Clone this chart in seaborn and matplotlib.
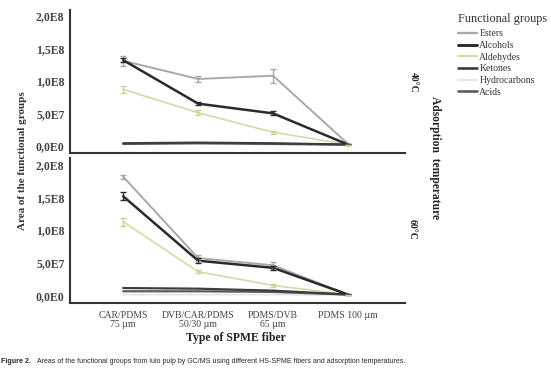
import matplotlib
matplotlib.use("Agg")
import matplotlib.pyplot as plt
from matplotlib.lines import Line2D
import seaborn as sns
import pandas as pd

# fibers on the x axis
fibers = ["CAR/PDMS\n75 µm", "DVB/CAR/PDMS\n50/30 µm", "PDMS/DVB\n65 µm", "PDMS 100 µm"]
groups = ["Esters", "Alcohols", "Aldehydes", "Ketones", "Hydrocarbons", "Acids"]

# 40 C panel, means (x1E8)
esters_40 = [1.31, 1.03, 1.08, 0.03]
alcohols_40 = [1.32, 0.65, 0.50, 0.02]
aldehydes_40 = [0.87, 0.51, 0.21, 0.02]
ketones_40 = [0.04, 0.05, 0.04, 0.02]
hydrocarbons_40 = [0.03, 0.03, 0.02, 0.01]
acids_40 = [0.03, 0.04, 0.03, 0.02]
# error bars 40 C
esters_40_err = [0.08, 0.04, 0.11, 0.005]
alcohols_40_err = [0.03, 0.02, 0.03, 0.005]
aldehydes_40_err = [0.05, 0.04, 0.02, 0.0]

# 60 C panel, means (x1E8)
esters_60 = [1.82, 0.57, 0.46, 0.01]
alcohols_60 = [1.52, 0.53, 0.42, 0.01]
aldehydes_60 = [1.13, 0.36, 0.15, 0.01]
ketones_60 = [0.11, 0.10, 0.07, 0.01]
hydrocarbons_60 = [0.01, 0.01, 0.01, 0.0]
acids_60 = [0.06, 0.06, 0.05, 0.01]
# error bars 60 C
esters_60_err = [0.03, 0.05, 0.05, 0.005]
alcohols_60_err = [0.06, 0.04, 0.03, 0.005]
aldehydes_60_err = [0.06, 0.02, 0.02, 0.0]

ytick_vals = [0, 5e7, 1e8, 1.5e8, 2e8]
ytick_labels = ["0,0E0", "5,0E7", "1,0E8", "1,5E8", "2,0E8"]

colors = {"Esters": "#a8a8a8", "Alcohols": "#2a2a2a", "Aldehydes": "#d9d7a9",
          "Ketones": "#3d3d3d", "Hydrocarbons": "#e4e4e4", "Acids": "#5c5c5c"}
widths = {"Esters": 1.4, "Alcohols": 1.8, "Aldehydes": 1.2,
          "Ketones": 1.6, "Hydrocarbons": 1.2, "Acids": 1.6}

sns.set_style("white")
plt.rcParams["font.family"] = ["Liberation Serif", "DejaVu Serif"]


def make_df(vals):
    rows = []
    for g, v in zip(groups, vals):
        for i, y in enumerate(v):
            rows.append({"pos": i, "area": y * 1e8, "group": g})
    return pd.DataFrame(rows)


def draw_panel(ax, vals, errs):
    df = make_df(vals)
    # draw light lines first so dark ones sit on top
    for g in ["Hydrocarbons", "Esters", "Aldehydes", "Acids", "Ketones", "Alcohols"]:
        sub = df[df["group"] == g]
        sns.lineplot(data=sub, x="pos", y="area", color=colors[g], lw=widths[g],
                     ax=ax, legend=False, errorbar=None)
    for g, e in errs.items():
        v = vals[groups.index(g)]
        ax.errorbar(range(4), [y * 1e8 for y in v], yerr=[x * 1e8 for x in e],
                    fmt="none", ecolor=colors[g] if g != "Aldehydes" else "#cfcc95",
                    elinewidth=1.0, capsize=2, capthick=1.0)
    ax.set_xlim(-0.71, 3.76)
    ax.set_yticks(ytick_vals)
    ax.set_yticklabels(ytick_labels, fontsize=8.5, fontweight="bold", color="#444444")
    ax.set_xlabel("")
    ax.set_ylabel("")
    sns.despine(ax=ax)
    for s in ["left", "bottom"]:
        ax.spines[s].set_linewidth(1.5)
        ax.spines[s].set_color("#333333")
    ax.tick_params(axis="y", length=3, width=1, color="#333333", pad=1)


fig = plt.figure(figsize=(5.51, 3.75), dpi=100)
ax1 = fig.add_axes([0.127, 0.592, 0.608, 0.381])
ax2 = fig.add_axes([0.127, 0.192, 0.608, 0.387])

draw_panel(ax1, [esters_40, alcohols_40, aldehydes_40, ketones_40, hydrocarbons_40, acids_40],
           {"Esters": esters_40_err, "Alcohols": alcohols_40_err, "Aldehydes": aldehydes_40_err})
draw_panel(ax2, [esters_60, alcohols_60, aldehydes_60, ketones_60, hydrocarbons_60, acids_60],
           {"Esters": esters_60_err, "Alcohols": alcohols_60_err, "Aldehydes": aldehydes_60_err})

ax1.set_ylim(-0.11e8, 2.09e8)
ax2.set_ylim(-0.12e8, 2.11e8)
ax1.set_xticks([])
ax2.set_xticks(range(4))
ax2.set_xticklabels(fibers, fontsize=7, color="#444444", linespacing=0.95)
ax2.tick_params(axis="x", length=4, width=1, color="#333333", pad=2)

# axis titles
fig.text(0.040, 0.573, "Area of the functional groups", rotation=90, ha="center", va="center",
         fontsize=8, fontweight="bold", color="#333333")
fig.text(0.428, 0.098, "Type of SPME fiber", ha="center", va="center",
         fontsize=8.5, fontweight="bold", color="#222222")
fig.text(0.750, 0.781, "40°C", rotation=-90, ha="center", va="center",
         fontsize=7, fontweight="bold", color="#222222")
fig.text(0.748, 0.387, "60°C", rotation=-90, ha="center", va="center",
         fontsize=7, fontweight="bold", color="#222222")
fig.text(0.790, 0.581, "Adsorption  temperature", rotation=-90, ha="center", va="center",
         fontsize=8.3, fontweight="bold", color="#222222")

# legend, title drawn separately for spacing
fig.text(0.831, 0.949, "Functional groups", fontsize=8.8, color="#333333", va="center")
handles = [Line2D([0], [0], color=colors[g], lw=widths[g] + 0.3) for g in groups]
leg = fig.legend(handles, groups, loc="upper left",
                 bbox_to_anchor=(0.831, 0.922), frameon=False, fontsize=7,
                 handlelength=2.0, handletextpad=0.2,
                 labelspacing=0.28, borderaxespad=0, borderpad=0)
for t in leg.get_texts():
    t.set_color("#333333")

# caption
cap_font = ["Liberation Sans Narrow", "Liberation Sans", "DejaVu Sans"]
fig.text(0.002, 0.035, "Figure 2.", fontsize=5.1, fontweight="bold",
         family=cap_font, va="center")
fig.text(0.067, 0.035, "Areas of the functional groups from lulo pulp by GC/MS using different HS-SPME fibers and adsorption temperatures.",
         fontsize=5.0, family=cap_font, va="center")

fig.savefig("out.png", dpi=100)
